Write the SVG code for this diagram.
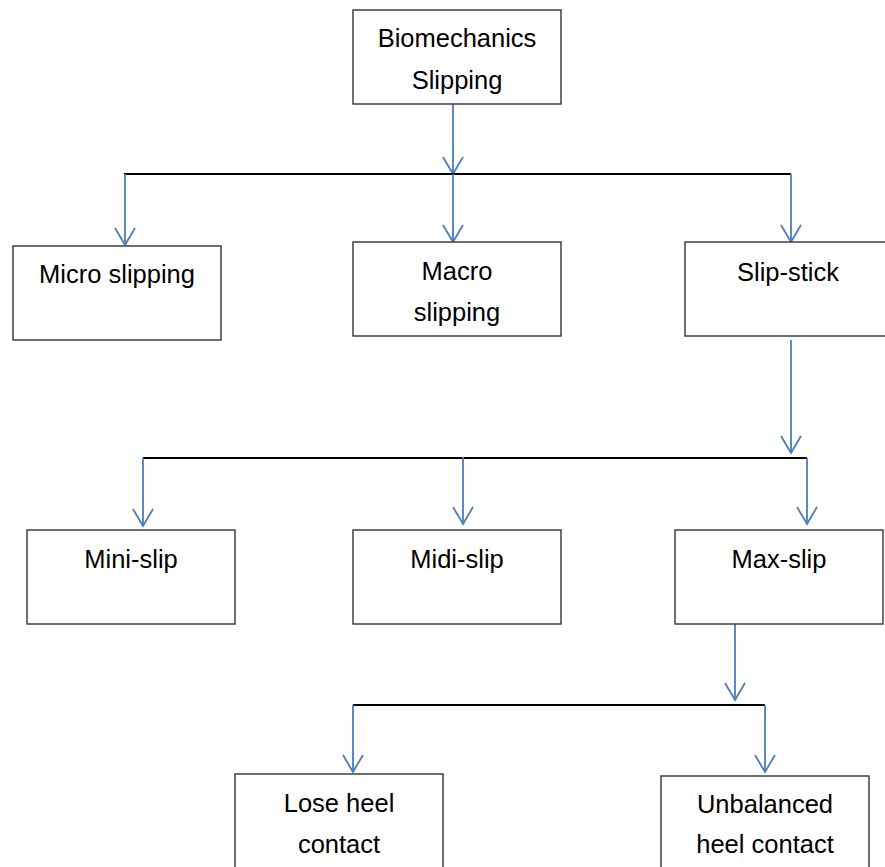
<svg xmlns="http://www.w3.org/2000/svg" width="885" height="867" viewBox="0 0 885 867">
  <style>
    .box { fill: #ffffff; stroke: #333333; stroke-width: 1.4; }
    .lbl { font-family: "Liberation Sans", Arial, sans-serif; font-size: 25.5px; fill: #000000; text-anchor: middle; }
    .bar { stroke: #000000; stroke-width: 2; fill: none; }
    .arr { stroke: #4a7ebb; stroke-width: 1.8; fill: none; marker-end: url(#vhead); }
  </style>
  <defs>
    <marker id="vhead" markerUnits="userSpaceOnUse" markerWidth="22" markerHeight="24" viewBox="-19 -12 21 24" refX="0" refY="0" orient="auto" overflow="visible">
      <path d="M-17,-10 L0,0 L-17,10" fill="none" stroke="#4a7ebb" stroke-width="1.8"/>
    </marker>
  </defs>
  <rect width="885" height="867" fill="#ffffff"/>

  <g id="connectors">
    <line class="arr" x1="453" y1="104" x2="453" y2="174"/>
    <line class="bar" x1="124" y1="174" x2="791" y2="174"/>
    <line class="arr" x1="125" y1="174" x2="125" y2="245"/>
    <line class="arr" x1="453" y1="174" x2="453" y2="242"/>
    <line class="arr" x1="791" y1="174" x2="791" y2="242"/>
    <line class="arr" x1="791" y1="340" x2="791" y2="453"/>
    <line class="bar" x1="143" y1="458" x2="807" y2="458"/>
    <line class="arr" x1="143" y1="458" x2="143" y2="526"/>
    <line class="arr" x1="463" y1="457" x2="463" y2="524"/>
    <line class="arr" x1="807" y1="458" x2="807" y2="524"/>
    <line class="arr" x1="735" y1="624" x2="735" y2="700"/>
    <line class="bar" x1="353" y1="705" x2="765" y2="705"/>
    <line class="arr" x1="353" y1="705" x2="353" y2="772"/>
    <line class="arr" x1="765" y1="705" x2="765" y2="772"/>
  </g>

  <g id="biomechanics-slipping">
    <rect class="box" x="353" y="10" width="208" height="94"/>
    <text class="lbl" x="457" y="47">Biomechanics</text>
    <text class="lbl" x="457" y="89">Slipping</text>
  </g>

  <g id="micro-slipping">
    <rect class="box" x="13" y="246" width="208" height="94"/>
    <text class="lbl" x="117" y="283">Micro slipping</text>
  </g>

  <g id="macro-slipping">
    <rect class="box" x="353" y="242" width="208" height="94"/>
    <text class="lbl" x="457" y="280">Macro</text>
    <text class="lbl" x="457" y="321">slipping</text>
  </g>

  <g id="slip-stick">
    <rect class="box" x="685" y="242" width="210" height="94"/>
    <text class="lbl" x="788" y="281">Slip-stick</text>
  </g>

  <g id="mini-slip">
    <rect class="box" x="27" y="530" width="208" height="94"/>
    <text class="lbl" x="131" y="568">Mini-slip</text>
  </g>

  <g id="midi-slip">
    <rect class="box" x="353" y="530" width="208" height="94"/>
    <text class="lbl" x="457" y="568">Midi-slip</text>
  </g>

  <g id="max-slip">
    <rect class="box" x="675" y="530" width="208" height="94"/>
    <text class="lbl" x="779" y="568">Max-slip</text>
  </g>

  <g id="lose-heel-contact">
    <rect class="box" x="235" y="774" width="208" height="110"/>
    <text class="lbl" x="339" y="812">Lose heel</text>
    <text class="lbl" x="339" y="853">contact</text>
  </g>

  <g id="unbalanced-heel-contact">
    <rect class="box" x="661" y="776" width="208" height="110"/>
    <text class="lbl" x="765" y="813">Unbalanced</text>
    <text class="lbl" x="765" y="853">heel contact</text>
  </g>
</svg>
